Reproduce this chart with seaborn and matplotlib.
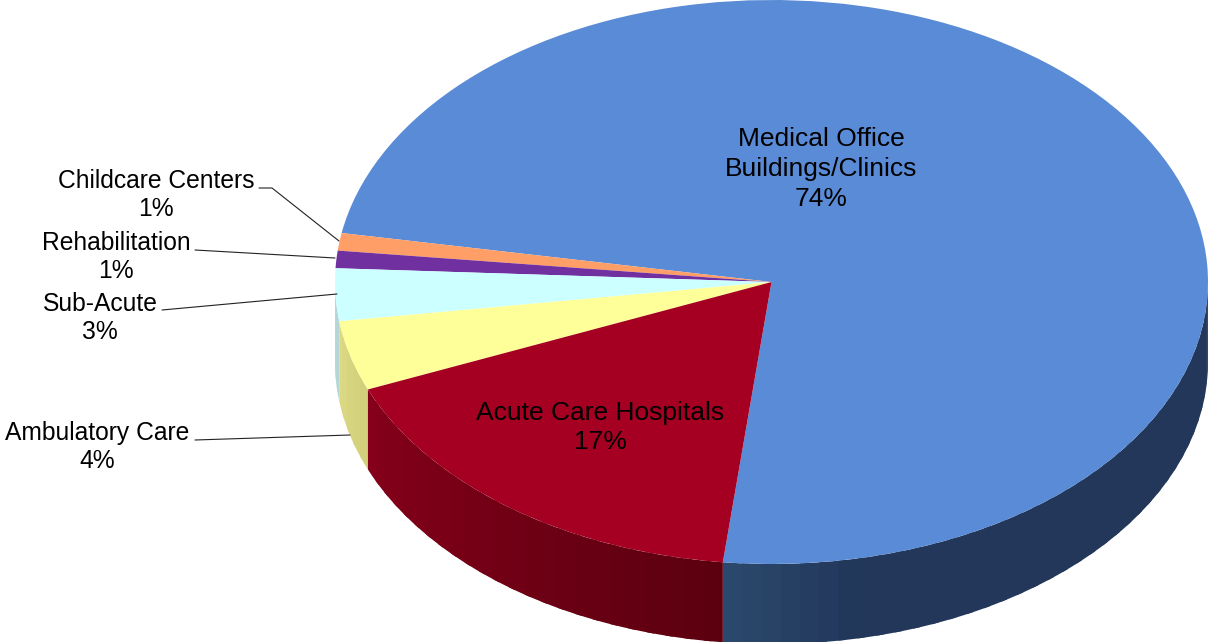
"""
Share of projects by healthcare facility type, drawn as a tilted pie with a side wall.
"""
import matplotlib
matplotlib.use('Agg')  # Use non-interactive backend
import matplotlib.pyplot as plt
import seaborn as sns
import numpy as np

# Chart data
categories = ['Medical Office\nBuildings/Clinics', 'Childcare Centers', 'Rehabilitation',
              'Sub-Acute', 'Ambulatory Care', 'Acute Care Hospitals']
shares = [74, 1, 1, 3, 4, 17]
share_labels = ['74%', '1%', '1%', '3%', '4%', '17%']

top_colors = ['#5a8bd6', '#ff9e66', '#7030a0', '#ccffff', '#ffff99', '#a50021']
wall_left = ['#2a486c', '#c47a50', '#552478', '#b4d6d6', '#dcd985', '#85001a']
wall_right = ['#22375a', '#c47a50', '#552478', '#b4d6d6', '#d3d07c', '#5c0010']

# Pixel geometry of the reference
FIG_W, FIG_H = 1209, 642
CX, CY = 771.5, 282
RX, RY = 436.5, 282
DEPTH = 80 / RY
START = 263.6


def px(x, y):
    """Reference pixel to data coordinates (pie radius is 1 on both axes)."""
    return (x - CX) / RX, (CY - y) / RY


sns.set_theme(style='white')
plt.rcParams['font.family'] = ['Liberation Sans', 'DejaVu Sans']

fig = plt.figure(figsize=(FIG_W / 100, FIG_H / 100), dpi=100)
ax = fig.add_axes([0, 0, 1, 1])

# Side wall: only the front half of the ellipse shows, shaded band by band
edges = START + np.cumsum([0] + shares) * 3.6
for i in range(len(shares)):
    visible = []
    for shift in (0, -360):
        a0 = max(edges[i] + shift, 180)
        a1 = min(edges[i + 1] + shift, 360)
        if a1 > a0:
            visible.append((a0, a1))
    for a0, a1 in visible:
        n_bands = max(int((a1 - a0) / 2.5), 1)
        # the blue wall goes dark quickly, the red one fades across its width
        stops = [wall_left[i], wall_right[i]]
        if i == 0:
            stops = [wall_left[i]] + [wall_right[i]] * 6
        shades = sns.blend_palette(stops, n_colors=n_bands)
        cuts = np.linspace(a0, a1, n_bands + 1)
        for k in range(n_bands):
            # each band runs on under the next one, so no seams show
            end = cuts[-1] if k == n_bands - 1 else cuts[k + 1] + 1
            t = np.radians(np.linspace(cuts[k], end, 20))
            xs = np.concatenate([np.cos(t), np.cos(t[::-1])])
            ys = np.concatenate([np.sin(t), np.sin(t[::-1]) - DEPTH])
            ax.fill(xs, ys, color=shades[k], lw=0, zorder=1)

# Top face
wedges, _ = ax.pie(shares, colors=top_colors, startangle=START, counterclock=True,
                   radius=1, wedgeprops={'linewidth': 0, 'edgecolor': 'none', 'zorder': 2})
ax.set_aspect('auto')
ax.set_xlim(px(0, 0)[0], px(FIG_W, 0)[0])
ax.set_ylim(px(0, FIG_H)[1], px(0, 0)[1])
ax.axis('off')

# Leader lines
leaders = [
    [(259, 188), (272, 188), (339, 241)],
    [(195, 250), (335, 258)],
    [(162, 310), (337, 294)],
    [(195, 440), (350, 435)],
]
for path in leaders:
    pts = np.array([px(x, y) for x, y in path])
    ax.plot(pts[:, 0], pts[:, 1], color='#222222', lw=0.8, zorder=3)

# Labels, centred on their lines of text; the two on the big slices are larger
label_pos = [(821, 169), (156, 195), (116, 257), (100, 318), (97, 447), (600, 427.5)]
label_size = [19, 17.7, 17.7, 17.7, 17.7, 19]
label_gap = [1.3, 1.23, 1.23, 1.23, 1.23, 1.3]
for name, share, (x, y), size, gap in zip(categories, share_labels, label_pos, label_size, label_gap):
    lx, ly = px(x, y)
    ax.text(lx, ly, f'{name}\n{share}', ha='center', va='center', fontsize=size,
            color='black', linespacing=gap, zorder=4)

fig.savefig('out.png', dpi=100, facecolor='white')
plt.close(fig)
